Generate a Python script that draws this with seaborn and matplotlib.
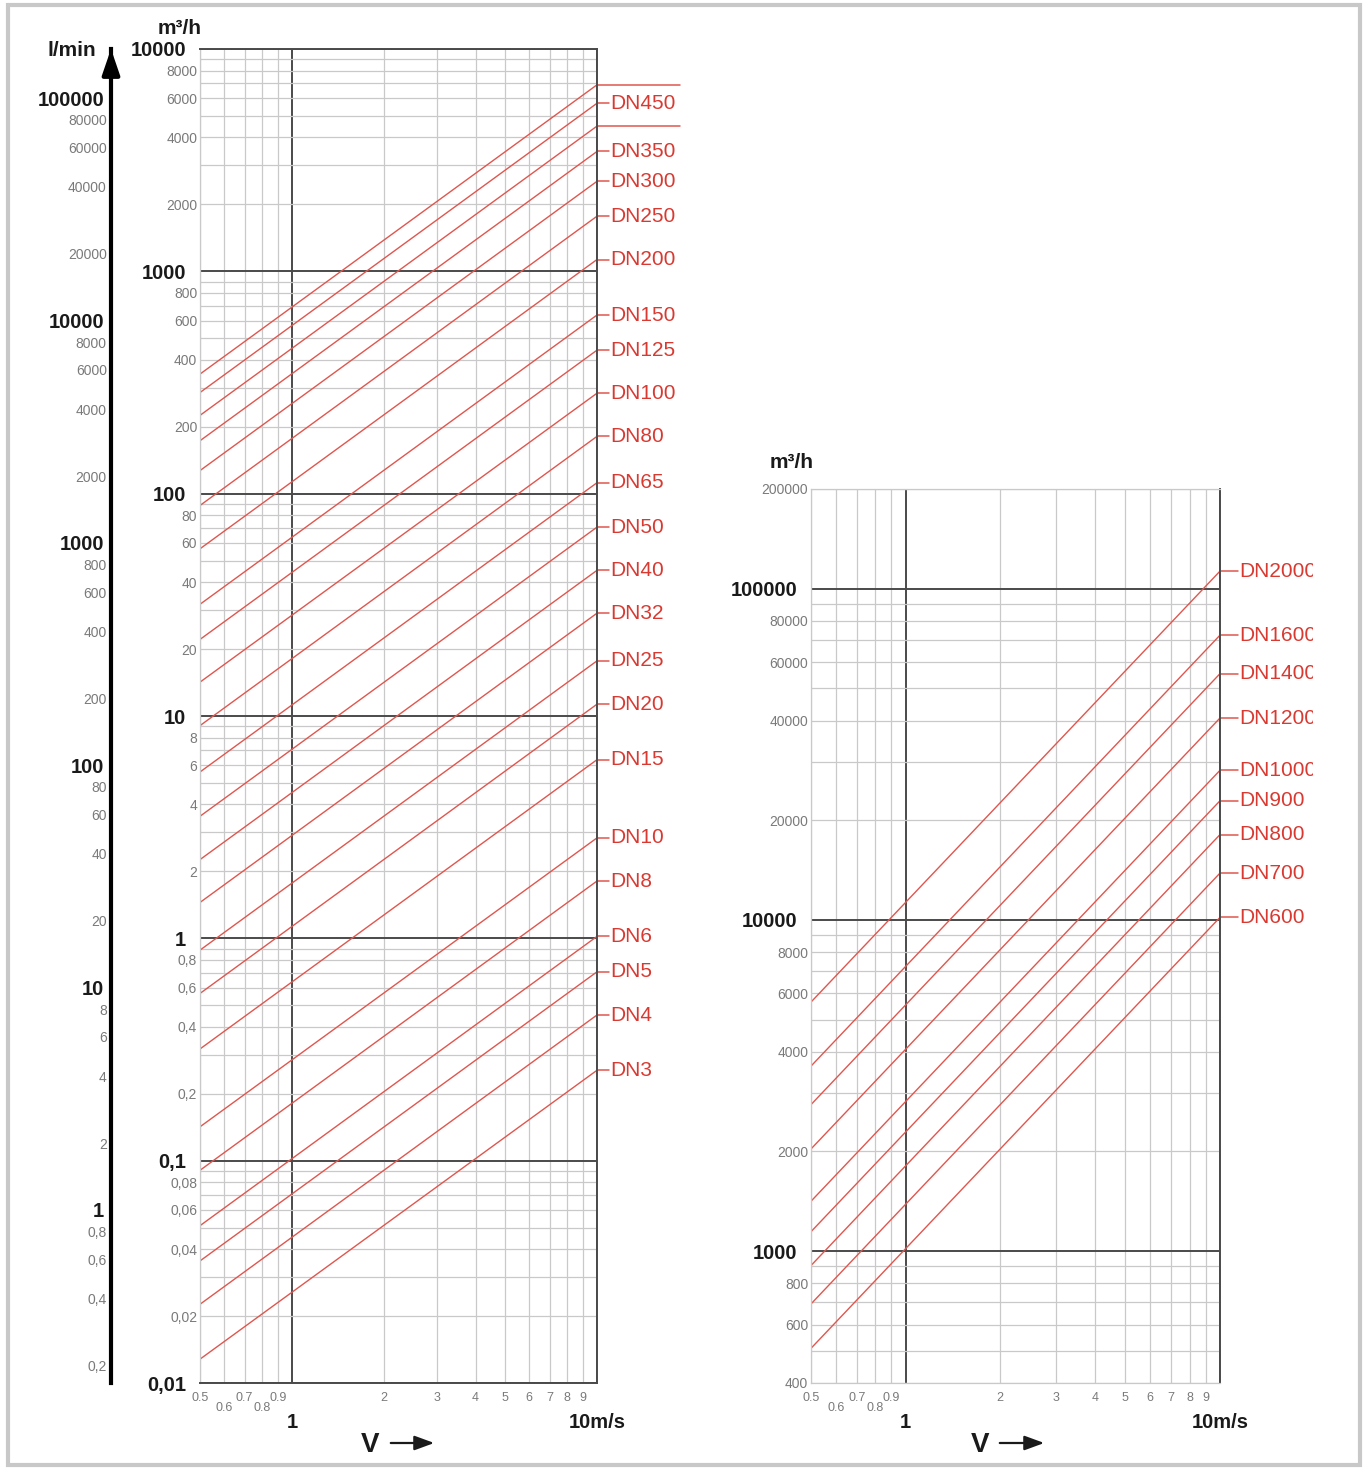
import pandas as pd
import seaborn as sns
import matplotlib.pyplot as plt
from matplotlib import patches
from matplotlib.ticker import NullFormatter
from matplotlib.transforms import Bbox, TransformedBbox

# ---- values ----
velocity_ends = [0.5, 10]  # m/s, where every line starts and ends

# left chart (m3/h at 0.5 m/s and at 10 m/s)
dn_small = ["DN500", "DN450", "DN400", "DN350", "DN300", "DN250", "DN200", "DN150",
            "DN125", "DN100", "DN80", "DN65", "DN50", "DN40", "DN32", "DN25", "DN20",
            "DN15", "DN10", "DN8", "DN6", "DN5", "DN4", "DN3"]
q_small_start = [345, 285, 225, 173, 127, 88.5, 56.5, 31.8, 22.1, 14.2, 9.05, 5.6,
                 3.54, 2.26, 1.45, 0.885, 0.565, 0.318, 0.142, 0.0905, 0.051, 0.0354,
                 0.0226, 0.0128]
q_small_end = [6900, 5700, 4500, 3460, 2540, 1770, 1130, 636, 442, 283, 181, 112,
               70.7, 45.2, 29, 17.7, 11.3, 6.36, 2.83, 1.81, 1.02, 0.707, 0.452, 0.255]
unlabeled = ["DN500", "DN400"]

# right chart
dn_large = ["DN2000", "DN1600", "DN1400", "DN1200", "DN1000", "DN900", "DN800",
            "DN700", "DN600"]
q_large_start = [5650, 3620, 2770, 2035, 1415, 1145, 905, 693, 509]
q_large_end = [113000, 72400, 55400, 40700, 28300, 22900, 18100, 13850, 10180]

# ticks
x_major = [1, 10]
x_major_labels = ["1", "10m/s"]
x_minor = [0.5, 0.6, 0.7, 0.8, 0.9, 2, 3, 4, 5, 6, 7, 8, 9]
x_minor_labels = ["0.5", "0.6", "0.7", "0.8", "0.9", "2", "3", "4", "5", "6", "7", "8", "9"]

left_decades = [0.01, 0.1, 1, 10, 100, 1000, 10000]
right_decades = [1000, 10000, 100000]
lmin_decades = [1, 10, 100, 1000, 10000, 100000]
LMIN_PER_M3H = 1000 / 60

RED = "#e0564e"
RED_TXT = "#d83a32"
DARK = "#4a4a4a"
LIGHT = "#c9c9c9"
TXT = "#1a1a1a"
GREY_TXT = "#7a7a7a"

sns.set_style("white")
plt.rcParams['font.family'] = ['Liberation Sans', 'DejaVu Sans']

W, H = 1367, 1470
fig = plt.figure(figsize=(W / 100, H / 100), dpi=100)


def fx(px):
    return px / W


def fy(py):
    return 1 - py / H


def de(v):
    return f"{v:g}".replace(".", ",")


def lead_digit(v):
    return de(v).lstrip('0,')[0]


def minor_between(lo, hi):
    out = []
    d = 1e-3
    while d < hi * 10:
        for k in range(2, 10):
            val = round(k * d, 6)
            if lo <= val <= hi:
                out.append(val)
        d *= 10
    return out


def long_table(names, q0, q1):
    rows = []
    for n, a, b in zip(names, q0, q1):
        rows.append((n, velocity_ends[0], a))
        rows.append((n, velocity_ends[1], b))
    return pd.DataFrame(rows, columns=["DN", "v", "Q"])


def style_panel(ax, ylim, decades, minors, spine_cols):
    ax.set_xscale('log')
    ax.set_yscale('log')
    ax.set_xlim(0.5, 10)
    ax.set_ylim(*ylim)
    ax.set_xlabel('')
    ax.set_ylabel('')

    ax.set_yticks(decades, labels=[de(v) for v in decades])
    ax.set_yticks(minors, labels=[de(v) if lead_digit(v) in "2468" else "" for v in minors],
                  minor=True)
    ax.tick_params(axis='y', which='major', length=9, width=1.4, color=DARK,
                   labelsize=14.5, pad=1, labelcolor=TXT)
    for t in ax.get_yticklabels():
        t.set_fontweight('bold')
    ax.tick_params(axis='y', which='minor', length=0, pad=2, labelsize=10,
                   labelcolor=GREY_TXT)

    ax.set_xticks(x_major, labels=x_major_labels)
    ax.set_xticks(x_minor, minor=True)
    ax.xaxis.set_minor_formatter(NullFormatter())
    ax.tick_params(axis='x', which='major', length=12, width=1.4, color=DARK,
                   labelsize=14.5, pad=9.5, labelcolor=TXT)
    for t in ax.get_xticklabels():
        t.set_fontweight('bold')
    ax.tick_params(axis='x', which='minor', length=0)

    for v, lab in zip(x_minor, x_minor_labels):
        dy = -25 if lab in ("0.6", "0.8") else -15
        ax.annotate(lab, xy=(v, 0), xycoords=('data', 'axes fraction'), xytext=(0, dy),
                    textcoords='offset pixels', ha='center', va='center', fontsize=9,
                    color=GREY_TXT)

    ax.grid(which='minor', color=LIGHT, lw=0.9)
    ax.grid(which='major', color=DARK, lw=1.4)
    ax.set_axisbelow(True)
    for side, col in spine_cols.items():
        ax.spines[side].set_visible(True)
        ax.spines[side].set_color(col)
        ax.spines[side].set_linewidth(1.4 if col == DARK else 0.9)


def label_lines(ax, names, q_end, tick_len, gap, clip_box=None):
    tr = ax.get_yaxis_transform()
    for n, q in zip(names, q_end):
        if n in unlabeled:
            ax.plot([1, 1.21], [q, q], transform=tr, color=RED, lw=1.1, clip_on=False)
            continue
        ax.plot([1, 1 + tick_len], [q, q], transform=tr, color=RED, lw=1.1, clip_on=False)
        t = ax.text(1 + gap, q, n, transform=tr, color=RED_TXT, fontsize=15,
                    va='center', ha='left')
        if clip_box is not None:
            t.set_clip_on(True)
            t.set_clip_path(None)
            t.set_clip_box(clip_box)


# ---- left chart ----
ax1 = fig.add_axes([fx(200), fy(1383), fx(597) - fx(200), fy(49) - fy(1383)])
df_small = long_table(dn_small, q_small_start, q_small_end)
sns.lineplot(data=df_small, x="v", y="Q", hue="DN", palette=[RED] * len(dn_small),
             legend=False, ax=ax1, lw=1.0, estimator=None, sort=False)
style_panel(ax1, (0.01, 10000), left_decades, minor_between(0.01, 10000),
            {'left': LIGHT, 'top': DARK, 'bottom': DARK, 'right': DARK})
label_lines(ax1, dn_small, q_small_end, 12 / 397, 13 / 397)

# ---- right chart ----
ax2 = fig.add_axes([fx(811), fy(1383), fx(1220) - fx(811), fy(489) - fy(1383)])
df_large = long_table(dn_large, q_large_start, q_large_end)
sns.lineplot(data=df_large, x="v", y="Q", hue="DN", palette=[RED] * len(dn_large),
             legend=False, ax=ax2, lw=1.0, estimator=None, sort=False)
style_panel(ax2, (400, 200000), right_decades, minor_between(400, 200000),
            {'left': LIGHT, 'top': LIGHT, 'bottom': LIGHT, 'right': DARK})
clip_box = TransformedBbox(Bbox([[0, 0], [fx(1313), 1]]), fig.transFigure)
label_lines(ax2, dn_large, q_large_end, 18 / 409, 19 / 409, clip_box=clip_box)

# ---- l/min scale ----
axl = fig.add_axes([fx(111), fy(1383), 0.0001, fy(49) - fy(1383)])
axl.set_yscale('log')
axl.set_ylim(0.01 * LMIN_PER_M3H, 10000 * LMIN_PER_M3H)
axl.patch.set_visible(False)
for s in ['top', 'right', 'bottom']:
    axl.spines[s].set_visible(False)
axl.spines['left'].set_color('black')
axl.spines['left'].set_linewidth(3)
axl.set_xticks([])
lmin_minor = minor_between(0.01 * LMIN_PER_M3H, 10000 * LMIN_PER_M3H)
axl.set_yticks(lmin_decades, labels=[de(v) for v in lmin_decades])
axl.set_yticks(lmin_minor, labels=[de(v) if lead_digit(v) in "2468" else ""
                                   for v in lmin_minor], minor=True)
axl.tick_params(axis='y', which='major', direction='in', length=17, width=2,
                color='black', labelsize=14.5, pad=5, labelcolor=TXT)
for t in axl.get_yticklabels():
    t.set_fontweight('bold')
axl.tick_params(axis='y', which='minor', direction='in', length=6, width=1,
                color='#9a9a9a', labelsize=10, pad=3, labelcolor=GREY_TXT)
axl.annotate('', xy=(0, 1), xycoords='axes fraction', xytext=(0, -30),
             textcoords='offset pixels',
             arrowprops=dict(arrowstyle='-|>,head_length=0.7,head_width=0.24',
                             mutation_scale=22, lw=3, color='black',
                             shrinkA=0, shrinkB=0))

# ---- texts ----
fig.text(fx(180), fy(28), "m³/h", ha='center', va='center', fontsize=15,
         fontweight='bold', color=TXT)
fig.text(fx(792), fy(462), "m³/h", ha='center', va='center', fontsize=15,
         fontweight='bold', color=TXT)
fig.text(fx(72), fy(50), "l/min", ha='center', va='center', fontsize=15,
         fontweight='bold', color=TXT)

for vx, a0, a1 in [(370, 388, 437), (980, 997, 1047)]:
    fig.text(fx(vx), fy(1445), "V", ha='center', va='center', fontsize=20,
             fontweight='bold', color=TXT)
    fig.add_artist(patches.FancyArrowPatch((fx(a0), fy(1443)), (fx(a1), fy(1443)),
                                           transform=fig.transFigure,
                                           arrowstyle='-|>,head_length=0.6,head_width=0.22',
                                           mutation_scale=20, lw=1.6, color=TXT))

# outer frame
fig.add_artist(patches.Rectangle((fx(8), fy(1465)), fx(1360) - fx(8), fy(5) - fy(1465),
                                 transform=fig.transFigure, fill=False, lw=3,
                                 edgecolor='#c8c8c8'))

fig.savefig("out.png", dpi=100)
